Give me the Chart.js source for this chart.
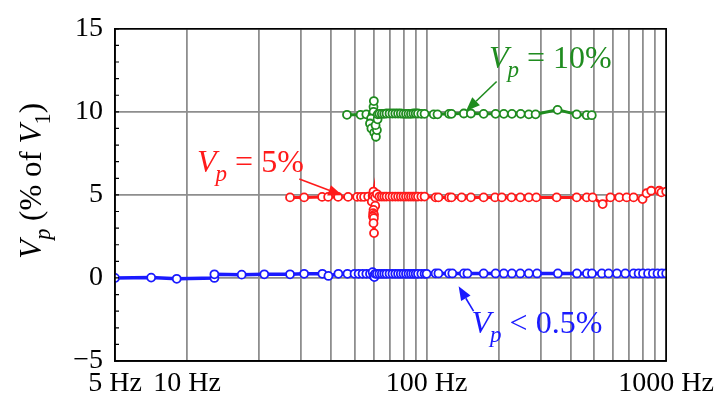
<!DOCTYPE html>
<html>
<head>
<meta charset="utf-8">
<script src="https://cdn.jsdelivr.net/npm/chart.js@4.4.1/dist/chart.umd.min.js"></script>
<style>
  html, body { margin: 0; padding: 0; background: #fff; }
  #wrap { width: 720px; height: 394px; }
</style>
</head>
<body>
<div id="wrap"><canvas id="vpChart" width="720" height="394"></canvas></div>
<script>
// Frequencies in Hz, values in % of V1
const greenFreq = [46.5, 53, 56, 59.5, 60, 60.2, 60, 58.6, 58, 58.8, 60.4, 61.4, 62, 61.2, 62.4,
  62.5, 63.5, 65, 66.5, 68, 70, 72, 74, 76, 78, 80, 82, 84, 86, 88, 90, 92, 95, 98,
  107, 111, 124, 127, 143, 153, 173, 194, 210, 227, 247, 267, 285, 352, 423, 466, 489];
const greenVals = [9.82, 9.82, 9.85, 9.85, 10.3, 10.65, 10.0, 9.6, 9.3, 9.0, 8.75, 8.5, 8.9, 9.2, 9.55,
  9.85, 9.88, 9.88, 9.88, 9.9, 9.9, 9.9, 9.9, 9.9, 9.9, 9.88, 9.88, 9.88, 9.88, 9.9, 9.9, 9.9, 9.88, 9.88,
  9.85, 9.85, 9.88, 9.88, 9.9, 9.9, 9.88, 9.88, 9.88, 9.88, 9.88, 9.85, 9.85, 10.12, 9.85, 9.8, 9.8];

const redFreq = [26.9, 30.8, 36.6, 38.8, 42.7, 47, 51.3, 53.2, 54.8, 57,
  59.5, 60, 60, 59, 61, 60, 59.8, 60.3, 59.7, 60.2, 60, 60.3, 61,
  62, 63.5, 65, 66.5, 68, 70, 72, 74, 76, 78, 80, 82, 84, 86, 88, 90, 92, 95, 98,
  109, 112, 124, 127, 140, 153, 173, 193, 206, 226, 246, 267, 287, 349, 423, 466, 493,
  543, 585, 637, 684, 731, 797, 828, 866, 935, 955, 1000];
const redVals = [4.85, 4.85, 4.88, 4.88, 4.88, 4.88, 4.88, 4.88, 4.88, 4.9,
  4.95, 5.2, 4.9, 4.6, 4.35, 4.1, 3.9, 3.8, 3.7, 3.6, 3.3, 2.7, 4.85,
  5.05, 4.9, 4.9, 4.9, 4.9, 4.9, 4.9, 4.9, 4.9, 4.9, 4.9, 4.9, 4.9, 4.9, 4.9, 4.9, 4.9, 4.9, 4.9,
  4.85, 4.85, 4.85, 4.85, 4.85, 4.85, 4.85, 4.85, 4.85, 4.85, 4.85, 4.85, 4.85, 4.85, 4.85, 4.85, 4.85,
  4.45, 4.85, 4.85, 4.85, 4.85, 4.75, 5.1, 5.25, 5.25, 5.15, 5.2];

const blueFreq = [5, 7.08, 9.05, 13, 13, 16.9, 21, 26.9, 30.8, 36.7, 38.9, 42.8, 46.7,
  50, 52, 54, 56, 58, 59.5, 60, 60.5, 61,
  62, 63.5, 65, 66.5, 68, 70, 72, 74, 76, 78, 80, 82, 84, 86, 88, 90, 92, 95, 98,
  100, 109, 112, 124, 128, 143, 148, 173, 194, 210, 227, 246, 267, 289, 353, 424, 467, 490,
  539, 575, 623, 675, 731, 767, 800, 840, 880, 920, 960, 1000];
const blueVals = [0, 0.02, -0.05, 0, 0.22, 0.2, 0.22, 0.22, 0.25, 0.25, 0.12, 0.25, 0.25,
  0.25, 0.25, 0.25, 0.25, 0.25, 0.35, 0.12, 0.05, 0.25,
  0.25, 0.25, 0.25, 0.25, 0.25, 0.25, 0.25, 0.25, 0.25, 0.25, 0.25, 0.25, 0.25, 0.25, 0.25, 0.25, 0.25, 0.25, 0.25,
  0.25, 0.27, 0.27, 0.27, 0.27, 0.27, 0.27, 0.27, 0.27, 0.27, 0.27, 0.27, 0.27, 0.27, 0.27, 0.27, 0.27, 0.27,
  0.27, 0.27, 0.27, 0.27, 0.27, 0.27, 0.27, 0.27, 0.27, 0.27, 0.27, 0.27];

// Axis ticks
const xGridValues = [5, 10, 20, 30, 40, 50, 60, 70, 80, 90, 100, 200, 300, 400, 500, 600, 700, 800, 900, 1000];
const xLabelValues = [5, 10, 100, 1000];
const yMin = -5;
const yMax = 15;

const GREEN = "#1f8c1f";
const RED = "#ff1a1a";
const BLUE = "#1a1aff";
const GRID = "#8e8e8e";
const SERIF = '"Liberation Serif", "Times New Roman", serif';

const toPoints = (xs, ys) => xs.map((x, i) => ({ x: x, y: ys[i] }));

const series = (label, xs, ys, color, width) => ({
  label: label,
  data: toPoints(xs, ys),
  borderColor: color,
  borderWidth: width,
  pointRadius: 4,
  pointBorderWidth: 1.8,
  pointBackgroundColor: "#fff",
  pointBorderColor: color,
  tension: 0,
  fill: false,
});

// Annotation texts and arrows, placed in data coordinates
const notes = [
  { color: GREEN, at: [182, 12.66], arrow: [[196, 11.83], [146, 10.05]], parts: [["V", 1], ["p", 2], [" = 10%", 0]] },
  { color: RED, at: [11.0, 6.39], arrow: [[29.4, 5.95], [44.4, 4.98]], parts: [["V", 1], ["p", 2], [" = 5%", 0]] },
  { color: BLUE, at: [154, -3.3], arrow: [[157, -2.0], [136, -0.5]], parts: [["V", 1], ["p", 2], [" < 0.5%", 0]] },
];

function drawParts(ctx, parts, x, y, size) {
  let cx = x;
  parts.forEach(([t, kind]) => {
    const s = kind === 2 ? size * 0.72 : size;
    ctx.font = (kind ? "italic " : "") + s + "px " + SERIF;
    ctx.fillText(t, cx, y + (kind === 2 ? size * 0.3 : 0));
    cx += ctx.measureText(t).width + (kind === 1 ? -1 : 0);
  });
}

function drawArrow(ctx, x1, y1, x2, y2, color) {
  const a = Math.atan2(y2 - y1, x2 - x1);
  const head = 14, half = 5.5;
  ctx.strokeStyle = color;
  ctx.fillStyle = color;
  ctx.lineWidth = 1.6;
  ctx.beginPath();
  ctx.moveTo(x1, y1);
  ctx.lineTo(x2 - head * Math.cos(a), y2 - head * Math.sin(a));
  ctx.stroke();
  ctx.beginPath();
  ctx.moveTo(x2, y2);
  ctx.lineTo(x2 - head * Math.cos(a) + half * Math.sin(a), y2 - head * Math.sin(a) - half * Math.cos(a));
  ctx.lineTo(x2 - head * Math.cos(a) - half * Math.sin(a), y2 - head * Math.sin(a) + half * Math.cos(a));
  ctx.closePath();
  ctx.fill();
}

const decorPlugin = {
  id: "decor",
  afterDraw(chart) {
    const { ctx, chartArea: a, scales } = chart;
    const xs = scales.x, ys = scales.y;
    ctx.save();

    // frame
    ctx.strokeStyle = "#000";
    ctx.lineWidth = 1.6;
    ctx.strokeRect(a.left, a.top, a.right - a.left, a.bottom - a.top);

    // inner minor ticks on left axis
    ctx.lineWidth = 1.2;
    ctx.beginPath();
    ys.ticks.forEach((t) => {
      const py = ys.getPixelForValue(t.value);
      ctx.moveTo(a.left, py);
      ctx.lineTo(a.left + 4, py);
    });
    ctx.stroke();

    // y title: V_p (% of V_1)
    const title = [["V", 1], ["p", 2], [" (% of ", 0], ["V", 1], ["1", 3], [")", 0]];
    const tsize = 31;
    ctx.fillStyle = "#000";
    ctx.textBaseline = "alphabetic";
    const drawTitle = (measure) => {
      let cx = 0;
      title.forEach(([t, k]) => {
        const sub = k === 2 || k === 3;
        const s = sub ? tsize * 0.72 : tsize;
        ctx.font = (k === 1 || k === 2 ? "italic " : "") + s + "px " + SERIF;
        if (!measure) ctx.fillText(t, cx, sub ? tsize * 0.3 : 0);
        cx += ctx.measureText(t).width;
      });
      return cx;
    };
    const tw = drawTitle(true);
    ctx.save();
    ctx.translate(41, (a.top + a.bottom) / 2 - 14 + tw / 2);
    ctx.rotate(-Math.PI / 2);
    drawTitle(false);
    ctx.restore();

    // annotations
    notes.forEach((n) => {
      ctx.fillStyle = n.color;
      drawParts(ctx, n.parts, xs.getPixelForValue(n.at[0]), ys.getPixelForValue(n.at[1]), 32);
      const [p, q] = n.arrow;
      drawArrow(ctx, xs.getPixelForValue(p[0]), ys.getPixelForValue(p[1]),
        xs.getPixelForValue(q[0]), ys.getPixelForValue(q[1]), n.color);
    });
    ctx.restore();
  },
};

new Chart(document.getElementById("vpChart").getContext("2d"), {
  type: "line",
  data: {
    datasets: [
      series("Vp = 10%", greenFreq, greenVals, GREEN, 3),
      series("Vp = 5%", redFreq, redVals, RED, 3),
      series("Vp < 0.5%", blueFreq, blueVals, BLUE, 3.5),
    ],
  },
  options: {
    responsive: false,
    devicePixelRatio: 1,
    animation: false,
    layout: { padding: { top: 22, right: 52, left: 0, bottom: 0 } },
    plugins: {
      legend: { display: false },
      title: { display: false },
      tooltip: { enabled: false },
    },
    scales: {
      x: {
        type: "logarithmic",
        min: 5,
        max: 1000,
        afterBuildTicks: (scale) => {
          scale.ticks = xGridValues.map((v) => ({ value: v }));
        },
        afterFit: (scale) => {
          scale.height = 33;
        },
        ticks: {
          autoSkip: false,
          maxRotation: 0,
          padding: 6,
          color: "#000",
          font: { family: SERIF, size: 28 },
          callback: (v) => (xLabelValues.includes(v) ? v + " Hz" : ""),
        },
        grid: {
          drawTicks: false,
          lineWidth: 1.8,
          color: (c) => (c.tick && c.tick.value === 5 ? "rgba(0,0,0,0)" : GRID),
        },
        border: { display: true, color: "#000", width: 1.6 },
      },
      y: {
        min: yMin,
        max: yMax,
        afterFit: (scale) => {
          scale.width = 115;
        },
        ticks: {
          stepSize: 1,
          autoSkip: false,
          padding: 12,
          color: "#000",
          font: { family: SERIF, size: 28 },
          callback: (v) => (v % 5 === 0 ? (v < 0 ? "\u2212" + Math.abs(v) : String(v)) : ""),
        },
        grid: {
          drawTicks: false,
          lineWidth: 1.8,
          color: (c) => (c.tick && c.tick.value % 5 === 0 ? GRID : "rgba(0,0,0,0)"),
        },
        border: { display: true, color: "#000", width: 1.6 },
      },
    },
  },
  plugins: [decorPlugin],
});
</script>
</body>
</html>
